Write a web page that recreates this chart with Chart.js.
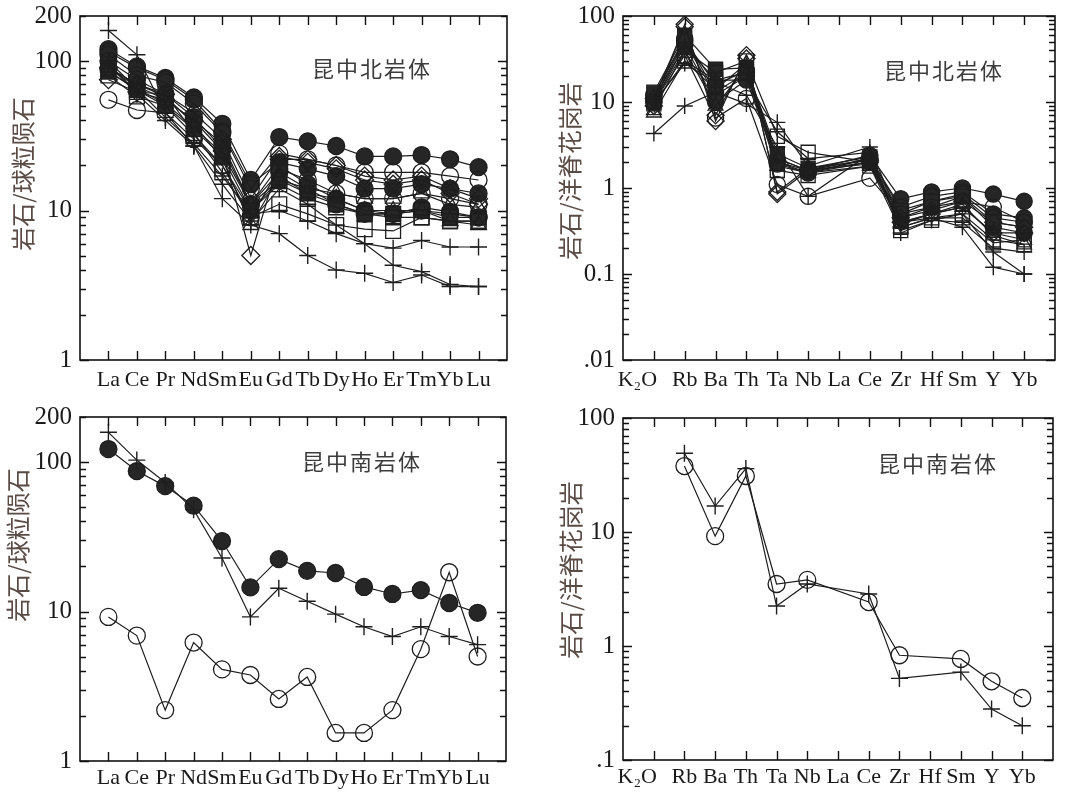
<!DOCTYPE html>
<html><head><meta charset="utf-8">
<script src="https://cdn.jsdelivr.net/npm/chart.js@4"></script>
<style>
html,body{margin:0;padding:0;background:#fff;}
body{width:1070px;height:792px;overflow:hidden;position:relative;}
canvas{position:absolute;}
</style></head>
<body>
<canvas id="c1" width="535" height="396" style="left:0;top:0"></canvas>
<canvas id="c2" width="530" height="396" style="left:540px;top:0"></canvas>
<canvas id="c3" width="535" height="392" style="left:0;top:400px"></canvas>
<canvas id="c4" width="530" height="392" style="left:540px;top:400px"></canvas>
<script>
// ---------- categories & tick labels ----------
const reeCategories = ['La','Ce','Pr','Nd','Sm','Eu','Gd','Tb','Dy','Ho','Er','Tm','Yb','Lu'];
const spiderCategories = ['K₂O      ','Rb','Ba','Th','Ta','Nb','La','Ce','Zr','Hf','Sm','Y','Yb'];
const reeTickValues = [1,10,100,200];
const reeTickLabels = ['1','10','100','200'];
const northSpiderTickValues = [0.01,0.1,1,10,100];
const northSpiderTickLabels = ['.01','0.1','1','10','100'];
const southSpiderTickValues = [0.1,1,10,100];
const southSpiderTickLabels = ['.1','1','10','100'];
const titleNorth = '昆中北岩体';
const titleSouth = '昆中南岩体';
const yTitleRee = '岩石/球粒陨石';
const yTitleSpider = '岩石/洋脊花岗岩';

// ---------- Panel 1: 昆中北岩体 REE (chondrite normalised) ----------
const nReeA = [120,92,77,57,38,16,31,29,27,23,23,23.5,22,19.5];
const nReeB = [110,80,72,52,33,14,24,22,20,18,18,18,17,16];
const nReeC = [115,90,75,55,34,15,21,19,17,14,14,15,14,13];
const nReeD = [75,62,55,40,25,5,22,22,20,17,16,17,14,12];
const nReeE = [88,68,55,40,28,11,20,15,12,10,9.5,10.5,9.8,9];
const nReeF = [55,47,45,30,20,9,19,16,13,12,12,13,12,11];
const nReeG = [90,70,58,38,22,8,17,13,12,10,10,10,8.5,8];
const nReeH = [95,62,60,33,18,9,11,9.5,8,7.5,7.3,9,8.5,8.5];
const nReeI = [85,64,50,35,23,10,16,13,11,9.5,9.5,10,9,9];
const nReeJ = [100,75,60,42,26,11,18,14,11,9.5,9.5,10,9.5,9];
const nReeK = [160,110,45,27,12,8,7,5,4,3.8,3.3,3.7,3.1,3.1];
const nReeL = [100,65,42,28,17,9.5,10,8.5,7,6,5.6,6.3,5.7,5.7];
const nReeM = [95,60,40,27,15,8.5,14,11,8,6,4.3,3.9,3.2,3.1];
const nReeN = [80,58,50,32,20,10,15,12,10.5,9.5,9,9,8.5,8.5];
const nReeO = [85,65,52,36,24,11,16,14,13,12,12,13,11,10.5];
const nReeP = [90,70,60,45,30,12,23,21,19,16,15,16,13,11];
const nReeSeries = [nReeK,nReeL,nReeM,nReeH,nReeN,nReeG,nReeO,nReeD,nReeP,nReeF,nReeB,nReeI,nReeJ,nReeE,nReeC,nReeA];
const nReeMarkers = ['x','x','x','os','os','ot','ot','od','od','oc','oc','fs','fc','fc','fc','fc'];

// ---------- Panel 2: 昆中北岩体 spider (ORG normalised), La not plotted ----------
const nSpA = [12,55,13,22,2.2,1.6,null,2.4,0.75,0.9,1.0,0.85,0.7];
const nSpB = [11,50,12,20,2.0,1.5,null,2.2,0.6,0.8,0.9,0.5,0.45];
const nSpC = [10,45,10,18,1.9,1.5,null,2.0,0.45,0.6,0.8,0.35,0.3];
const nSpD = [13,60,24,25,2.5,1.7,null,2.3,0.55,0.7,0.8,0.4,0.35];
const nSpE = [10,40,22,30,4,2.6,null,2.0,0.35,0.45,0.45,0.23,0.25];
const nSpF = [9,80,6,35,0.85,1.6,null,2.0,0.4,0.5,0.6,0.3,0.3];
const nSpG = [11,75,7,32,0.9,1.7,null,2.1,0.45,0.55,0.7,0.4,0.35];
const nSpH = [10,35,6.5,11,1.1,0.8,null,1.3,0.5,0.6,0.7,0.6,0.4];
const nSpI = [4.3,9,13,9.5,5.8,1.8,null,3.0,0.4,0.45,0.35,0.12,0.1];
const nSpJ = [10,28,17,12,3,0.8,null,2.5,0.35,0.45,0.5,0.18,0.1];
const nSpK = [7.5,30,14,28,1.8,1.5,null,1.8,0.4,0.5,0.6,0.3,0.25];
const nSpL = [8,40,9,25,2.2,1.6,null,1.9,0.38,0.5,0.65,0.28,0.22];
const nSpM = [12,52,16,23,2.0,1.6,null,2.2,0.5,0.7,0.85,0.45,0.4];
const nSpN = [11,45,18,18,4.5,2.2,null,2.6,0.3,0.42,0.4,0.2,0.18];
const nSpO = [9.5,30,18,22,1.6,1.4,null,1.8,0.32,0.42,0.5,0.25,0.22];
const nSpSeries = [nSpI,nSpJ,nSpN,nSpE,nSpO,nSpK,nSpL,nSpF,nSpG,nSpH,nSpD,nSpM,nSpC,nSpB,nSpA];
const nSpMarkers = ['x','x','x','os','os','ot','ot','od','od','oc','fs','fc','fc','fc','fc'];

// ---------- Panel 3: 昆中南岩体 REE ----------
const sReeFilled = [122,87,69,51,29.6,14.5,22.4,18.7,18.1,14.6,13.1,13.9,11.4,9.8];
const sReeCross = [158,103,73,48,22.8,9.2,14.3,11.7,9.6,7.9,6.8,7.9,6.8,6.0];
const sReeOpen = [9.2,6.9,2.19,6.2,4.1,3.76,2.6,3.65,1.54,1.54,2.19,5.6,18.3,5.0];
const sReeSeries = [sReeOpen,sReeCross,sReeFilled];
const sReeMarkers = ['oc','x','fc'];

// ---------- Panel 4: 昆中南岩体 spider (K2O, La, Hf not plotted) ----------
const sSpOpen = [null,37.9,9.2,31,3.5,3.8,null,2.43,0.83,null,0.77,0.49,0.35];
const sSpCross = [null,49,16.9,36,2.24,3.5,null,2.86,0.52,null,0.59,0.28,0.20];
const sSpSeries = [sSpOpen,sSpCross];
const sSpMarkers = ['oc','x'];

// ---------- styling helpers ----------
const INK = '#1e1e1e';
function markerStyle(m, scale){
  const s = scale || 1;
  const base = {borderColor: INK, pointBorderColor: INK, pointBorderWidth: 1.3, borderWidth: 1.2};
  switch(m){
    case 'fc': return {...base, pointStyle:'circle', pointRadius:8.5*s, pointBackgroundColor:'#262626'};
    case 'oc': return {...base, pointStyle:'circle', pointRadius:8.5*s, pointBackgroundColor:'rgba(0,0,0,0)'};
    case 'os': return {...base, pointStyle:'rect', pointRadius:10.5*s, pointBackgroundColor:'rgba(0,0,0,0)'};
    case 'fs': return {...base, pointStyle:'rect', pointRadius:10.5*s, pointBackgroundColor:'#262626'};
    case 'ot': return {...base, pointStyle:'triangle', pointRadius:9*s, pointBackgroundColor:'rgba(0,0,0,0)'};
    case 'od': return {...base, pointStyle:'rectRot', pointRadius:9*s, pointBackgroundColor:'rgba(0,0,0,0)'};
    case 'x':  return {...base, pointStyle:'cross', pointRadius:8.5*s, pointBackgroundColor:'rgba(0,0,0,0)', pointBorderWidth:1.4};
  }
}
function pad(arr){ return [null, ...arr, null]; }

const framePlugin = {
  id: 'frame',
  afterDraw(chart, args, o){
    const {ctx, chartArea:{left,right,top,bottom}, scales:{x,y}} = chart;
    ctx.save();
    ctx.strokeStyle = '#111';
    ctx.lineWidth = 1.4;
    ctx.beginPath();
    // category ticks top & bottom (inward)
    chart.data.labels.forEach((lab,i)=>{
      if(!lab) return;
      const px = Math.round(x.getPixelForValue(i)) + 0.5;
      ctx.moveTo(px, top); ctx.lineTo(px, top + 9);
      ctx.moveTo(px, bottom); ctx.lineTo(px, bottom - 9);
    });
    // log ticks left & right (inward)
    for(let d = Math.floor(Math.log10(o.min)); d <= Math.ceil(Math.log10(o.max)); d++){
      for(let m = 1; m <= 9; m++){
        const v = m * Math.pow(10, d);
        if(v < o.min*0.999 || v > o.max*1.001) continue;
        const py = Math.round(y.getPixelForValue(v)) + 0.5;
        const len = m === 1 ? 9 : 6;
        ctx.moveTo(left, py); ctx.lineTo(left + len, py);
        ctx.moveTo(right, py); ctx.lineTo(right - len, py);
      }
    }
    ctx.stroke();
    ctx.lineWidth = 1.6;
    ctx.strokeRect(left, top, right-left, bottom-top);
    // in-plot title
    ctx.fillStyle = '#3c3c3c';
    ctx.font = '22px "Noto Sans CJK SC"';
    ctx.letterSpacing = '2px';
    ctx.textAlign = 'center';
    ctx.textBaseline = 'middle';
    ctx.fillText(o.title, o.tx, o.ty);
    // y-axis title (rotated)
    ctx.save();
    ctx.translate(o.yx, o.yy);
    ctx.rotate(-Math.PI/2);
    ctx.fillStyle = '#5a4b45';
    ctx.font = '24px "Noto Sans CJK SC"';
    ctx.letterSpacing = '0px';
    ctx.fillText(o.ytitle, 0, 0);
    ctx.restore();
    ctx.restore();
  }
};

function makeChart(id, cats, series, markers, tickVals, tickLbls, geo, frameOpts, markerScale){
  const labels = ['', ...cats, ''];
  const datasets = series.map((s,i)=>({
    data: pad(s),
    spanGaps: true,
    tension: 0,
    fill: false,
    ...markerStyle(markers[i], markerScale)
  }));
  return new Chart(document.getElementById(id), {
    type: 'line',
    data: {labels, datasets},
    plugins: [framePlugin],
    options: {
      responsive: false,
      animation: false,
      devicePixelRatio: 1,
      events: [],
      layout: {padding: {top: geo.top, right: geo.right, left: 0, bottom: 0}},
      plugins: {
        legend: {display: false},
        tooltip: {enabled: false},
        frame: {...frameOpts, min: tickVals[0], max: tickVals[tickVals.length-1]}
      },
      scales: {
        x: {
          type: 'category',
          offset: false,
          grid: {display: false, drawTicks: false},
          border: {display: false},
          ticks: {autoSkip: false, maxRotation: 0, minRotation: 0, padding: geo.xpad,
                  color: '#1a1a1a', font: {family: '"Liberation Serif", serif', size: 22}},
          afterFit: sc => { sc.height = geo.xh; sc.paddingLeft = 0; sc.paddingRight = 0; }
        },
        y: {
          type: 'logarithmic',
          min: tickVals[0],
          max: tickVals[tickVals.length-1],
          grid: {display: false, drawTicks: false},
          border: {display: false},
          afterBuildTicks: sc => { sc.ticks = tickVals.map(v => ({value: v})); },
          ticks: {
            padding: 8,
            color: '#1a1a1a',
            font: {family: '"Liberation Serif", serif', size: 25},
            callback: v => { const k = tickVals.findIndex(t => Math.abs(t - v) < t*1e-6); return k >= 0 ? tickLbls[k] : ''; }
          },
          afterFit: sc => { sc.width = geo.yw; sc.paddingTop = 0; sc.paddingBottom = 0; }
        }
      }
    }
  });
}

makeChart('c1', reeCategories, nReeSeries, nReeMarkers, reeTickValues, reeTickLabels,
  {top:16, right:28, yw:80, xh:36, xpad:7},
  {title:titleNorth, tx:372, ty:69, ytitle:yTitleRee, yx:23, yy:174}, 1);
makeChart('c2', spiderCategories, nSpSeries, nSpMarkers, northSpiderTickValues, northSpiderTickLabels,
  {top:16, right:15, yw:83, xh:36, xpad:7},
  {title:titleNorth, tx:404, ty:71, ytitle:yTitleSpider, yx:30, yy:171}, 0.95);
makeChart('c3', reeCategories, sReeSeries, sReeMarkers, reeTickValues, reeTickLabels,
  {top:17, right:29, yw:80, xh:31, xpad:4},
  {title:titleSouth, tx:362, ty:62, ytitle:yTitleRee, yx:18, yy:145}, 1);
makeChart('c4', spiderCategories, sSpSeries, sSpMarkers, southSpiderTickValues, southSpiderTickLabels,
  {top:18, right:17, yw:83, xh:32, xpad:4},
  {title:titleSouth, tx:398, ty:64, ytitle:yTitleSpider, yx:31, yy:170}, 1);
</script>
</body></html>
